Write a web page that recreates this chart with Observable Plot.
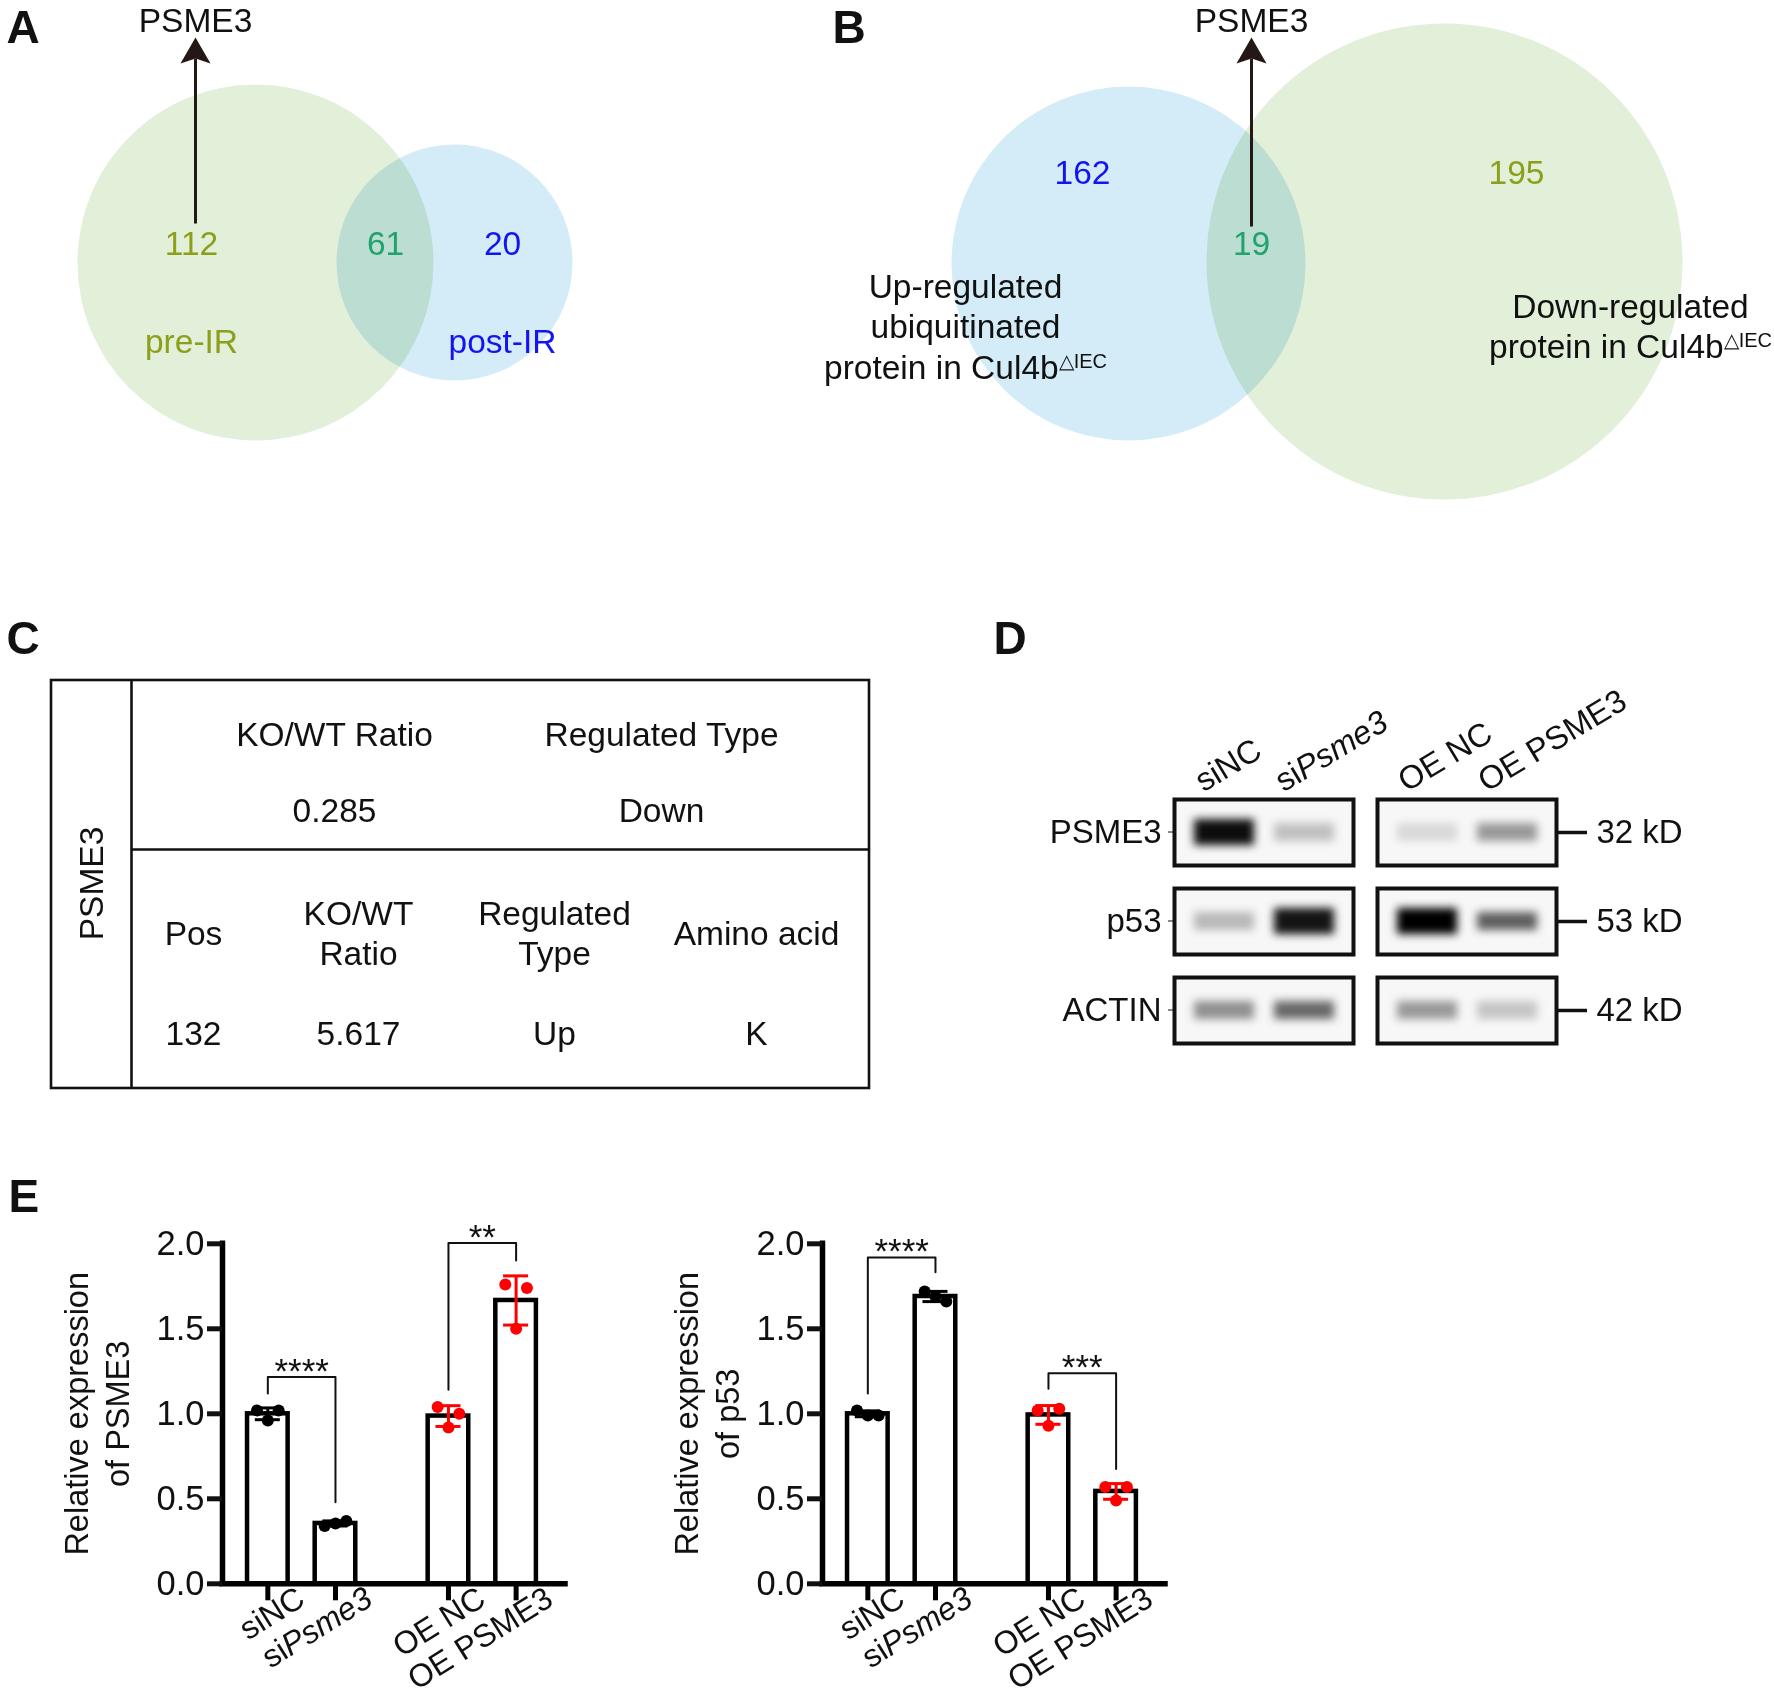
<!DOCTYPE html>
<html>
<head>
<meta charset="utf-8">
<script src="https://cdn.jsdelivr.net/npm/d3@7"></script>
<script src="https://cdn.jsdelivr.net/npm/@observablehq/plot@0.6"></script>
<style>
  html, body { margin: 0; padding: 0; background: #fff; }
  #fig { position: relative; width: 1774px; height: 1700px; background: #fff; overflow: hidden; }
  #fig > svg { position: absolute; }
</style>
</head>
<body>
<div id="fig"></div>
<script>
// ---------------- DATA ----------------
const panelLetters = ["A", "B", "C", "D", "E"];

const highlightedProtein = "PSME3";
const vennA_sets = ["pre-IR", "post-IR"];
const vennA_counts = [112, 61, 20];            // only pre-IR, shared, only post-IR
const vennB_sets = ["Up-regulated\nubiquitinated\nprotein in Cul4b△IEC", "Down-regulated\nprotein in Cul4b△IEC"];
const vennB_counts = [162, 19, 195];           // only up-ubiquitinated, shared, only down-regulated

const tableProtein = "PSME3";
const tableHeaderTop = ["KO/WT Ratio", "Regulated Type"];
const tableValuesTop = ["0.285", "Down"];
const tableHeaderSite = ["Pos", "KO/WT\nRatio", "Regulated\nType", "Amino acid"];
const tableValuesSite = ["132", "5.617", "Up", "K"];

const lanes = ["siNC", "siPsme3", "OE NC", "OE PSME3"];
const laneGroups = ["si", "si", "OE", "OE"];
const blotProteins = ["PSME3", "p53", "ACTIN"];
const blotMarkers = ["32 kD", "53 kD", "42 kD"];
const blotIntensity = [          // band darkness per protein (rows) and lane (columns)
  [0.95, 0.22, 0.12, 0.38],
  [0.25, 0.92, 1.00, 0.62],
  [0.42, 0.58, 0.38, 0.20]
];
const blotHaze = [[0.10, 0.03], [0.03, 0.03], [0.03, 0.03]];   // membrane background per row and group

const psme3Reps = [[1.02, 1.02, 0.96], [0.34, 0.37, 0.355], [1.04, 1.00, 0.92], [1.76, 1.74, 1.50]];
const p53Reps   = [[1.02, 0.99, 0.99], [1.72, 1.66, 1.69], [1.02, 1.03, 0.93], [0.57, 0.57, 0.49]];
const sigPairs = [[0, 1], [2, 3]];
const psme3SigLabels = ["****", "**"];
const psme3SigLevels = [1.216, 2.004];
const psme3SigLegs = [[1.12, 0.48], [1.141, 1.902]];
const p53SigLabels = ["****", "***"];
const p53SigLevels = [1.92, 1.239];
const p53SigLegs = [[1.12, 1.833], [1.147, 0.676]];
const yTicks = [0, 0.5, 1.0, 1.5, 2.0];
const psme3Title = "Relative expression\nof PSME3";
const p53Title = "Relative expression\nof p53";

// ---------------- LAYOUT / STYLE ----------------
const FONT = '"Liberation Sans", Arial, Helvetica, sans-serif';
const NS = "http://www.w3.org/2000/svg";
const GREEN_FILL = "#e2efd9", BLUE_FILL = "#d4ecf7";
const OLIVE = "#8c9f1b", TEAL = "#20a46c", BLUE = "#1414f0", ARROW = "#231815";
const TXT = 33.5;
const letterPos = [[6, 42], [832, 42], [6, 653], [993, 653], [8, 1211]];
const vennLayout = {
  A: {circles: [[255, 262, 178], [454, 262, 118]], fills: [GREEN_FILL, BLUE_FILL],
      counts: [[191, 244], [385, 244], [502, 244]], countColors: [OLIVE, TEAL, BLUE],
      labels: [[191, 340], [502, 340]], labelColors: [OLIVE, BLUE], arrowX: 195, arrowBottom: 223},
  B: {circles: [[1128, 263, 177], [1444, 261, 238]], fills: [BLUE_FILL, GREEN_FILL],
      counts: [[1082, 173], [1251, 244], [1516, 173]], countColors: [BLUE, TEAL, OLIVE],
      labels: [[965, 325], [1630, 325]], labelColors: ["#111", "#111"], arrowX: 1251, arrowBottom: 226}
};
const tableLayout = {box: [51, 869, 680, 1088], divX: 131, divY: 849,
  topCols: [334, 661], topHeadY: 733, topValY: 809,
  siteCols: [193, 358, 554, 756], siteHeadY: 932, siteValY: 1032, protX: 92, protY: 883};

const fig = document.getElementById("fig");
function place(svg, x, y) {
  svg.style.left = x + "px"; svg.style.top = y + "px";
  fixText(svg);
  fig.appendChild(svg);
  return svg;
}
function fixText(svg) {
  svg.querySelectorAll("text, tspan").forEach(el => {
    if (el.children.length) return;
    const s = el.textContent;
    if (s.endsWith("△IEC")) {
      el.textContent = s.slice(0, -4);
      const sup = document.createElementNS(NS, "tspan");
      sup.setAttribute("font-size", "20");
      sup.setAttribute("dy", "-11");
      sup.textContent = "△IEC";
      el.appendChild(sup);
    } else if (s === "siPsme3") {
      el.textContent = "si";
      const it = document.createElementNS(NS, "tspan");
      it.setAttribute("font-style", "italic");
      it.textContent = "Psme3";
      el.appendChild(it);
    }
  });
}
function canvas(x0, y0, W, H, marks) {
  const svg = Plot.plot({
    width: W, height: H, margin: 0,
    x: {domain: [x0, x0 + W], range: [0, W], axis: null},
    y: {domain: [y0, y0 + H], range: [0, H], axis: null},
    r: {type: "identity"}, color: {type: "identity"},
    style: {fontFamily: FONT, background: "transparent", overflow: "visible", color: "#111"},
    marks
  });
  return place(svg, x0, y0);
}
const arrowHead = {
  draw(ctx, size) {
    const s = Math.sqrt(size) / 20;
    ctx.moveTo(0, -17 * s); ctx.lineTo(15 * s, 9 * s); ctx.lineTo(0, 4 * s); ctx.lineTo(-15 * s, 9 * s); ctx.closePath();
  }
};

// ---------------- PANELS A & B (Venn) ----------------
function vennMarks(lay, counts, sets) {
  const circles = lay.circles.map(([x, y, r], i) => ({x, y, r, fill: lay.fills[i]}));
  const nums = counts.map((c, i) => ({x: lay.counts[i][0], y: lay.counts[i][1], t: String(c), fill: lay.countColors[i]}));
  const labs = sets.map((s, i) => ({x: lay.labels[i][0], y: lay.labels[i][1], t: s, fill: lay.labelColors[i]}));
  return [
    Plot.dot(circles, {x: "x", y: "y", r: "r", fill: "fill", mixBlendMode: "multiply"}),
    Plot.text(nums, {x: "x", y: "y", text: "t", fill: "fill", fontSize: TXT}),
    Plot.text(labs, {x: "x", y: "y", text: "t", fill: "fill", fontSize: TXT, lineHeight: 1.2}),
    Plot.link([lay], {x1: "arrowX", x2: "arrowX", y1: "arrowBottom", y2: () => 58, stroke: ARROW, strokeWidth: 3}),
    Plot.dot([lay], {x: "arrowX", y: () => 54, r: () => 20 / Math.sqrt(Math.PI), symbol: arrowHead, fill: ARROW, stroke: "none"}),
    Plot.text([lay], {x: "arrowX", y: () => 31, text: () => highlightedProtein, lineAnchor: "bottom", fontSize: TXT, fill: "#111"})
  ];
}
canvas(0, 0, 1774, 520, [
  ...vennMarks(vennLayout.A, vennA_counts, vennA_sets),
  ...vennMarks(vennLayout.B, vennB_counts, vennB_sets)
]);

// ---------------- PANEL C (table) ----------------
const T = tableLayout;
const tText = [
  ...tableHeaderTop.map((t, i) => ({x: T.topCols[i], y: T.topHeadY, t})),
  ...tableValuesTop.map((t, i) => ({x: T.topCols[i], y: T.topValY, t})),
  ...tableHeaderSite.map((t, i) => ({x: T.siteCols[i], y: T.siteHeadY, t})),
  ...tableValuesSite.map((t, i) => ({x: T.siteCols[i], y: T.siteValY, t}))
];
canvas(0, 560, 900, 560, [
  Plot.rect([T], {x1: d => d.box[0], x2: d => d.box[1], y1: d => d.box[2], y2: d => d.box[3], fill: "none", stroke: "#111", strokeWidth: 2.6}),
  Plot.ruleX([T], {x: "divX", y1: d => d.box[2], y2: d => d.box[3], stroke: "#111", strokeWidth: 2.6}),
  Plot.ruleY([T], {y: "divY", x1: "divX", x2: d => d.box[1], stroke: "#111", strokeWidth: 2.6}),
  Plot.text(tText, {x: "x", y: "y", text: "t", fontSize: TXT, lineHeight: 1.2, fill: "#111"}),
  Plot.text([T], {x: "protX", y: "protY", text: () => tableProtein, rotate: -90, fontSize: TXT, fill: "#111"})
]);

// ---------------- PANEL D (western blot) ----------------
const within = lanes.map((l, i) => lanes.slice(0, i).filter((_, k) => laneGroups[k] === laneGroups[i]).length);
const laneData = lanes.map((l, i) => ({lane: l, group: laneGroups[i], pos: within[i], protein: blotProteins[0]}));
const bandData = blotProteins.flatMap((p, r) => lanes.map((l, c) => ({protein: p, group: laneGroups[c], pos: within[c], level: blotIntensity[r][c]})));
const groupOrder = [...new Set(laneGroups)];
const hazeData = blotProteins.flatMap((p, r) => groupOrder.map((g, c) => ({protein: p, group: g, level: blotHaze[r][c]})));
const blot = Plot.plot({
  width: 774, height: 500, marginLeft: 174, marginRight: 217, marginTop: 198, marginBottom: 57,
  fx: {domain: groupOrder, paddingInner: 0.118, paddingOuter: 0, axis: null},
  fy: {domain: blotProteins, paddingInner: 0.2626, paddingOuter: 0, label: null},
  x: {type: "band", domain: [0, 1], paddingInner: 0.255, paddingOuter: 0.2385, axis: null},
  opacity: {type: "identity"},
  style: {fontFamily: FONT, background: "transparent", overflow: "visible", color: "#111"},
  marks: [
    Plot.frame({fill: "#f7f7f7", stroke: null}),
    Plot.cell(hazeData, {fx: "group", fy: "protein", fill: "#000", fillOpacity: "level", inset: 3}),
    Plot.cell(bandData.filter(d => d.level < 0.9), {fx: "group", fy: "protein", x: "pos", fill: "#000", fillOpacity: "level", insetTop: 24, insetBottom: 24, ariaDescription: "band"}),
    Plot.cell(bandData.filter(d => d.level >= 0.9), {fx: "group", fy: "protein", x: "pos", fill: "#000", fillOpacity: "level", insetTop: 20, insetBottom: 20, ariaDescription: "band"}),
    Plot.frame({stroke: "#111", strokeWidth: 4}),
    Plot.axisFy({anchor: "left", tickSize: 0, tickPadding: 13, fontSize: 33, label: null}),
    Plot.axisFy({anchor: "right", tickSize: 30, tickPadding: 10, strokeWidth: 3.5, fontSize: 33, label: null,
                 tickFormat: p => blotMarkers[blotProteins.indexOf(p)]}),
    Plot.text(laneData, {fx: "group", fy: "protein", x: "pos", text: "lane", frameAnchor: "top",
                         textAnchor: "start", lineAnchor: "bottom", rotate: -31, dx: -21, dy: -7, fontSize: 32.5})
  ]
});
let bandGroups = blot.querySelectorAll('g[aria-description="band"]');
if (!bandGroups.length) bandGroups = blot.querySelectorAll('g[aria-label="cell"]');
bandGroups.forEach(g => { g.style.filter = "blur(4.5px)"; });
place(blot, 1000, 600);

// ---------------- PANEL E (bar charts) ----------------
function barChart(reps, labels, levels, legs, title, titleDx) {
  const G = 2.67;
  const xpos = lanes.map((l, i) => groupOrder.indexOf(laneGroups[i]) * G + within[i]);
  const colorOf = g => g === "OE" ? "#ff0000" : "#000000";
  const summary = lanes.map((l, i) => ({name: l, x: xpos[i], mean: d3.mean(reps[i]), sd: d3.deviation(reps[i]), color: colorOf(laneGroups[i])}));
  const jitter = [-0.16, 0.16, 0];
  const pts = reps.flatMap((r, i) => r.map((v, j) => ({x: xpos[i] + jitter[j], v, color: colorOf(laneGroups[i])})));
  const brk = sigPairs.flatMap(([a, b], k) => [
    {k, x: xpos[a], y: legs[k][0]}, {k, x: xpos[a], y: levels[k]},
    {k, x: xpos[b], y: levels[k]}, {k, x: xpos[b], y: legs[k][1]}]);
  const stars = sigPairs.map(([a, b], k) => ({x: (xpos[a] + xpos[b]) / 2, y: levels[k], t: labels[k]}));
  const half = 0.3, cap = 0.185, xmin = -0.67;
  return Plot.plot({
    width: 640, height: 550, marginLeft: 222, marginRight: 75, marginTop: 93.3, marginBottom: 116.7,
    x: {domain: [xmin, G + 1 + 0.73]},
    y: {domain: [0, 2]},
    color: {type: "identity"},
    style: {fontFamily: FONT, background: "transparent", overflow: "visible", color: "#111"},
    marks: [
      Plot.rect(summary, {x1: d => d.x - half, x2: d => d.x + half, y1: 0, y2: "mean", fill: "white", stroke: "#000", strokeWidth: 4.5}),
      Plot.ruleX(summary, {x: "x", y1: d => d.mean - d.sd, y2: d => d.mean + d.sd, stroke: "color", strokeWidth: 3}),
      Plot.ruleY(summary, {y: d => d.mean + d.sd, x1: d => d.x - cap, x2: d => d.x + cap, stroke: "color", strokeWidth: 3}),
      Plot.ruleY(summary, {y: d => d.mean - d.sd, x1: d => d.x - cap, x2: d => d.x + cap, stroke: "color", strokeWidth: 3}),
      Plot.dot(pts, {x: "x", y: "v", r: 6, fill: "color", stroke: "none"}),
      Plot.line(brk, {x: "x", y: "y", z: "k", stroke: "#111", strokeWidth: 2}),
      Plot.text(stars, {x: "x", y: "y", text: "t", lineAnchor: "bottom", dy: 6, fontSize: 35}),
      Plot.ruleX(summary, {x: "x", y1: 0, y2: -0.1, stroke: "#000", strokeWidth: 5}),
      Plot.ruleX([xmin], {stroke: "#000", strokeWidth: 5.5, strokeLinecap: "square"}),
      Plot.ruleY([0], {stroke: "#000", strokeWidth: 5.5, strokeLinecap: "square"}),
      Plot.axisY({ticks: yTicks, tickFormat: d3.format(".1f"), tickSize: 15, tickPadding: 3, strokeWidth: 5, fontSize: 34.5, label: null}),
      Plot.axisX({ticks: [], label: null}),
      Plot.text(summary, {x: "x", text: "name", frameAnchor: "bottom", textAnchor: "end", lineAnchor: "top", rotate: -32, dx: 27, dy: 1, fontSize: 32}),
      Plot.text([title], {frameAnchor: "left", textAnchor: "middle", rotate: -90, dx: titleDx, lineHeight: 1.25, fontSize: 32.5})
    ]
  });
}
place(barChart(psme3Reps, psme3SigLabels, psme3SigLevels, psme3SigLegs, psme3Title, -127), 0, 1150);
place(barChart(p53Reps, p53SigLabels, p53SigLevels, p53SigLegs, p53Title, -117), 600, 1150);

// ---------------- panel letters ----------------
canvas(0, 0, 1774, 1700, [
  Plot.text(panelLetters, {x: (d, i) => letterPos[i][0], y: (d, i) => letterPos[i][1], text: d => d,
    textAnchor: "start", lineAnchor: "bottom", fontSize: 46, fontWeight: "bold", fill: "#111"})
]);
</script>
</body>
</html>
